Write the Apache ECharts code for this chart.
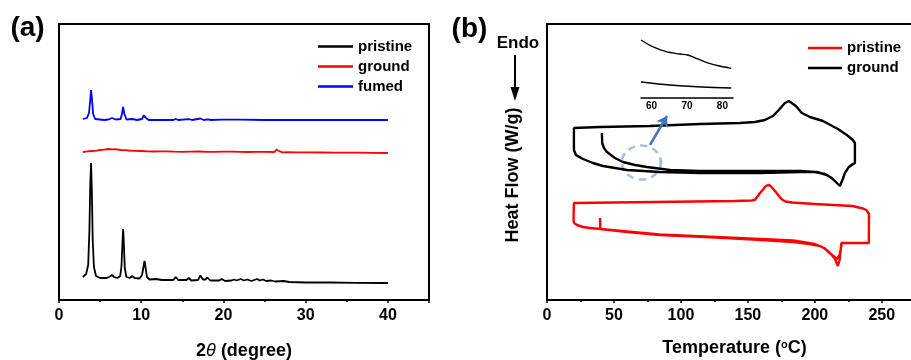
<!DOCTYPE html>
<html>
<head>
<meta charset="utf-8">
<script src="https://cdn.jsdelivr.net/npm/echarts@6/dist/echarts.min.js"></script>
<style>
  html, body { margin: 0; padding: 0; background: #fff; }
  #chart { width: 911px; height: 360px; }
</style>
</head>
<body>
<div id="chart"></div>
<script>
// ---------- (a) PXRD patterns: [2theta (deg), intensity (a.u.)] ----------
const xrdPristine = [
  [2.9,23],[3.3,26],[3.55,35],[3.7,70],[3.8,115],[3.9,137],[4.0,108],[4.1,60],[4.25,33],[4.5,24],
  [5.0,22],[5.8,22],[6.2,23.5],[6.45,25],[6.7,23],[7.1,22],[7.45,24],[7.6,34],[7.7,54],[7.8,71],
  [7.9,54],[8.0,32],[8.2,23],[8.6,22],[8.9,24],[9.2,22],[9.8,21.5],[10.1,25],[10.25,32],[10.4,39],
  [10.55,31],[10.7,23],[11.0,20.5],[11.8,21],[12.5,20],[13.9,20],[14.2,23],[14.5,20],[15.5,20],
  [15.8,22],[16.1,19.5],[16.9,20],[17.2,24.5],[17.5,20.5],[17.8,20.5],[18.05,22.5],[18.4,19.5],
  [19.5,19.5],[19.8,21],[20.2,19],[21.0,19.5],[21.3,20.5],[21.6,19.5],[22.1,21],[22.5,19.5],
  [22.9,20.5],[23.4,19],[24.1,21],[24.4,19.5],[24.8,20.5],[25.2,19],[25.8,19.5],[26.3,18.5],
  [27.3,19],[28,18],[30,17.5],[33,17.5],[36,17.2],[40,17]
];
const xrdGround = [
  [2.9,20],[3.5,20.6],[4,21],[4.6,21.4],[5,22],[5.5,22.3],[6,23],[6.4,22.6],[6.8,22.8],[7.5,22],
  [8.0,21.8],[8.5,21.5],[9.2,21.2],[10,21],[10.8,20.6],[11.5,20.5],[12.2,20.7],[13,20.6],[14,20.3],
  [15,20.2],[16,20.4],[17,20.5],[18,20.2],[19,20.2],[20,20.4],[21,20.3],[22,20.1],[23,20],[24,20.2],
  [25,20.1],[26.2,20],[26.45,22.5],[26.6,23],[26.75,21],[27.2,19.7],[28,19.8],[29,19.6],[30.5,19.6],
  [32,19.5],[33.5,19.4],[35,19.3],[36.5,19.3],[38,19.2],[40,19]
];
const xrdFumed = [
  [2.9,21],[3.4,22],[3.65,27],[3.8,40],[3.9,50],[4.0,42],[4.15,26],[4.4,21],[5.5,20],[6.0,20.5],
  [6.45,22],[6.9,20.5],[7.5,21],[7.65,26],[7.8,33],[7.95,26],[8.2,20.5],[8.9,21],[9.5,20],[10.1,21],
  [10.3,24.5],[10.45,26],[10.6,22],[10.9,20],[12,20],[13.9,20],[14.2,21],[14.5,20],[15.8,20.8],
  [16.2,20],[17.2,21.5],[17.6,20],[18.1,20.6],[18.5,20],[19.8,20.3],[22,20.3],[25,20],[30,20],[40,20]
];
// vertical offsets used to stack the patterns
const offsetPristine = 0;
const offsetGround = 128;
const offsetFumed = 160;
const xrdTicks = [0, 10, 20, 30, 40];

// ---------- (b) DSC traces: [temperature (degC), heat flow (a.u.)] ----------
const dscPristineHeat1 = [
  [39.6,82],[39.8,71],[41,70],[60,68],[84,65],[110,63.5],[134,62],[160,60],[184,58],[196,56],
  [204,54],[209,50],[212,46],[215,41],[217.2,34],[218.5,40],[219.3,50],[219.8,57],[222,57],[240.3,57]
];
const dscPristineCool = [
  [240.4,86],[238.5,90],[236,91.5],[228,94],[200,96],[183,97.5],[178,98.5],[175,101],[172,106],
  [169,111],[166.5,114.5],[165,115],[163,113.5],[161,110],[159,107],[157.5,104],[155.5,100.5],
  [153,99.5],[140,99],[110,98.5],[80,98],[50,97.5],[20.1,97]
];
const dscPristineHeat2 = [
  [19.8,80],[20.2,77],[22.4,75],[27,73],[32,72],[40,71],[60,68.5],[84,65.5],[134,62.5],[184,59.5],
  [200,56],[207,52],[212,46],[214.8,43],[216.5,41],[218.5,45],[219.5,52],[220,57]
];
const dscGroundHeat1 = [
  [41.0,167],[41.2,157],[42.5,152],[44.8,148],[50.7,142],[56.7,138],[65.7,135],[74.6,133],
  [91.8,130],[114.2,129],[144,129],[173.9,129],[188.8,129],[200,128],[207.5,126],[212.7,122],
  [217.2,116],[218.7,114],[220.9,121],[222.4,127],[225.4,133],[228.4,136],[229.9,137]
];
const dscGroundCool = [
  [229.9,157],[228.4,160],[223.9,165],[217.2,171],[206,179],[196.3,183],[190.3,187],[185.8,194],
  [180.6,199],[177.6,197],[173.1,190],[168.7,184],[162.7,180],[155.2,178],[144,177],[114.2,176],
  [76.9,174],[39.6,173],[20.1,172]
];
const dscGroundHeat2 = [
  [20.1,150],[21.6,145],[26.9,141],[34.3,137],[41.8,134],[59.7,130],[84.3,128],[114.2,127],
  [159,127],[188.8,128],[201.5,128],[209,125],[213.4,121],[218.7,114],[220.9,121],[222.4,127],
  [225.4,133],[229.9,137]
];
const dscTicks = [0, 50, 100, 150, 200, 250];

// enlarged view of the ground traces between 57 and 83 degC
const insetUpper = [
  [57,58],[60.3,51.3],[64.1,46.3],[67.9,44],[70.2,43],[72.6,39.7],[76.3,34.7],[79.2,32],[82.5,29.7]
];
const insetLower = [[57,16],[65.1,13],[74.4,11],[82.5,10]];
const insetTicks = [60, 70, 80];

// highlighted region and pointer towards the enlarged view
const zoomCircle = [[70.5,137.5]];
const pointerFrom = [76.9,155];
const pointerTo = [89.6,184];

// ---------- chart ----------
const FONT = 'Arial, "Liberation Sans", Helvetica, sans-serif';
const withOffset = (arr, off) => arr.map(p => [p[0], p[1] + off]);

const baseLabel = { fontFamily: FONT, fontWeight: 'bold', fontSize: 16, color: '#000' };

const chart = echarts.init(document.getElementById('chart'), null, { renderer: 'canvas' });

chart.setOption({
  animation: false,
  backgroundColor: '#fff',
  grid: [
    { left: 59, top: 24, width: 370, height: 276, outerBoundsMode: 'none', containLabel: false,
      show: true, borderColor: '#000', borderWidth: 2 },
    { left: 547, top: 24, width: 375, height: 276, outerBoundsMode: 'none', containLabel: false,
      show: true, borderColor: '#000', borderWidth: 2 },
    { left: 641, top: 36, width: 92, height: 62, outerBoundsMode: 'none', containLabel: false }
  ],
  xAxis: [
    {
      gridIndex: 0, type: 'value', min: 0, max: 45, interval: 10,
      axisLine: { show: true, lineStyle: { color: '#000', width: 2 } },
      axisTick: { show: true, length: 3, lineStyle: { color: '#000', width: 1.5 } },
      minorTick: { show: true, splitNumber: 2, length: 2, lineStyle: { color: '#000', width: 1.5 } },
      splitLine: { show: false },
      axisLabel: Object.assign({ margin: 8, customValues: xrdTicks }, baseLabel),
      name: '2{i|θ} (degree)', nameLocation: 'middle', nameGap: 42,
      nameTextStyle: {
        fontFamily: FONT, fontWeight: 'bold', fontSize: 18, color: '#000',
        rich: { i: { fontFamily: FONT, fontStyle: 'italic', fontWeight: 'normal', fontSize: 18, color: '#000' } }
      }
    },
    {
      gridIndex: 1, type: 'value', min: 0, max: 280, interval: 50,
      axisLine: { show: true, lineStyle: { color: '#000', width: 2 } },
      axisTick: { show: true, length: 3, lineStyle: { color: '#000', width: 1.5 } },
      minorTick: { show: true, splitNumber: 2, length: 2, lineStyle: { color: '#000', width: 1.5 } },
      splitLine: { show: false },
      axisLabel: Object.assign({ margin: 8, customValues: dscTicks }, baseLabel),
      name: 'Temperature ({sup|o}C)', nameLocation: 'middle', nameGap: 39,
      nameTextStyle: {
        fontFamily: FONT, fontWeight: 'bold', fontSize: 18, color: '#000',
        rich: { sup: { fontFamily: FONT, fontWeight: 'bold', fontSize: 11, color: '#000', verticalAlign: 'top', lineHeight: 18 } }
      }
    },
    {
      gridIndex: 2, type: 'value', min: 57, max: 83,
      axisLine: { show: true, onZero: false, lineStyle: { color: '#000', width: 1.5 } },
      axisTick: { show: false },
      splitLine: { show: false },
      axisLabel: { customValues: insetTicks, margin: 3, fontFamily: FONT, fontWeight: 'bold', fontSize: 10, color: '#000' }
    }
  ],
  yAxis: [
    { gridIndex: 0, type: 'value', min: 0, max: 276, show: false },
    { gridIndex: 1, type: 'value', min: 0, max: 276, show: false },
    { gridIndex: 2, type: 'value', min: 0, max: 62, show: false }
  ],
  legend: [
    {
      left: 318, top: 39, padding: 0, orient: 'vertical', itemGap: 5,
      itemWidth: 35, itemHeight: 2.5, icon: 'rect', selectedMode: false,
      textStyle: { fontFamily: FONT, fontWeight: 'bold', fontSize: 15, color: '#000' },
      data: [
        { name: 'pristine', itemStyle: { color: '#000' } },
        { name: 'ground', itemStyle: { color: '#ff0000' } },
        { name: 'fumed', itemStyle: { color: '#0000ff' } }
      ]
    },
    {
      left: 808, top: 40.5, padding: 0, orient: 'vertical', itemGap: 5,
      itemWidth: 34, itemHeight: 2.5, icon: 'rect', selectedMode: false,
      textStyle: { fontFamily: FONT, fontWeight: 'bold', fontSize: 15, color: '#000' },
      data: [
        { name: 'pristine', itemStyle: { color: '#ff0000' } },
        { name: 'ground', itemStyle: { color: '#000' } }
      ]
    }
  ],
  series: [
    { name: 'pristine', type: 'line', xAxisIndex: 0, yAxisIndex: 0, showSymbol: false, symbol: 'none',
      data: withOffset(xrdPristine, offsetPristine), lineStyle: { color: '#000', width: 1.8 }, itemStyle: { color: '#000' } },
    { name: 'ground', type: 'line', xAxisIndex: 0, yAxisIndex: 0, showSymbol: false, symbol: 'none',
      data: withOffset(xrdGround, offsetGround), lineStyle: { color: '#ff0000', width: 1.8 }, itemStyle: { color: '#ff0000' } },
    { name: 'fumed', type: 'line', xAxisIndex: 0, yAxisIndex: 0, showSymbol: false, symbol: 'none',
      data: withOffset(xrdFumed, offsetFumed), lineStyle: { color: '#0000ff', width: 1.8 }, itemStyle: { color: '#0000ff' } },

    { name: 'pristine', type: 'line', xAxisIndex: 1, yAxisIndex: 1, showSymbol: false, symbol: 'none',
      data: dscPristineHeat1.concat(dscPristineCool, dscPristineHeat2),
      lineStyle: { color: '#ff0000', width: 2.4 }, itemStyle: { color: '#ff0000' } },
    { name: 'ground', type: 'line', xAxisIndex: 1, yAxisIndex: 1, showSymbol: false, symbol: 'none',
      data: dscGroundHeat1.concat(dscGroundCool, dscGroundHeat2),
      lineStyle: { color: '#000', width: 2.4 }, itemStyle: { color: '#000' } },

    { name: 'region', type: 'scatter', xAxisIndex: 1, yAxisIndex: 1, silent: true,
      data: zoomCircle, symbol: 'circle', symbolSize: [39, 34],
      itemStyle: { color: 'rgba(0,0,0,0)', borderColor: '#8eaadb', borderWidth: 2.5, borderType: [7, 5] },
      markLine: {
        silent: true, symbol: ['none', 'arrow'], symbolSize: 10,
        label: { show: false },
        lineStyle: { color: '#4472c4', width: 2.5, type: 'solid' },
        data: [[{ coord: pointerFrom }, { coord: pointerTo }]]
      }
    },

    { name: 'inset upper', type: 'line', xAxisIndex: 2, yAxisIndex: 2, showSymbol: false, symbol: 'none',
      smooth: 0.3, data: insetUpper, lineStyle: { color: '#000', width: 1.3 } },
    { name: 'inset lower', type: 'line', xAxisIndex: 2, yAxisIndex: 2, showSymbol: false, symbol: 'none',
      smooth: 0.3, data: insetLower, lineStyle: { color: '#000', width: 1.3 } }
  ],
  graphic: [
    { type: 'text', x: 27.5, y: 28.5, silent: true,
      style: { text: '(a)', fontFamily: FONT, fontWeight: 'bold', fontSize: 28, fill: '#000', align: 'center', verticalAlign: 'middle' } },
    { type: 'text', x: 469.5, y: 29.5, silent: true,
      style: { text: '(b)', fontFamily: FONT, fontWeight: 'bold', fontSize: 28, fill: '#000', align: 'center', verticalAlign: 'middle' } },
    { type: 'text', x: 518, y: 43, silent: true,
      style: { text: 'Endo', fontFamily: FONT, fontWeight: 'bold', fontSize: 17, fill: '#000', align: 'center', verticalAlign: 'middle' } },
    { type: 'line', silent: true, shape: { x1: 515, y1: 55, x2: 515, y2: 90 }, style: { stroke: '#000', lineWidth: 2 } },
    { type: 'polygon', silent: true, shape: { points: [[510.5, 87], [519.5, 87], [515, 101]] }, style: { fill: '#000' } },
    { type: 'text', x: 513, y: 175, rotation: Math.PI / 2, silent: true,
      style: { text: 'Heat Flow (W/g)', fontFamily: FONT, fontWeight: 'bold', fontSize: 18, fill: '#000', align: 'center', verticalAlign: 'middle' } }
  ]
});
</script>
</body>
</html>
